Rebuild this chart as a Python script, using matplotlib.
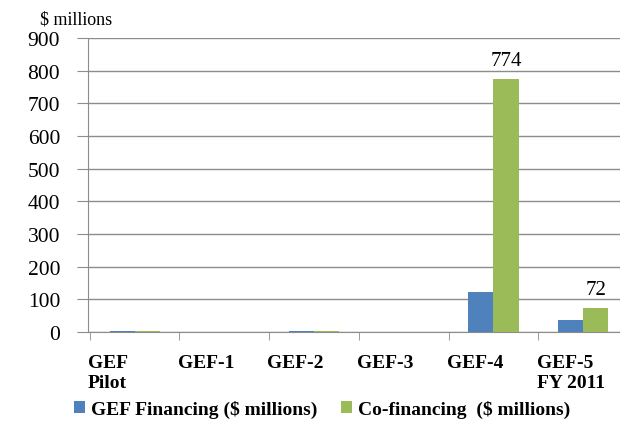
import numpy as np
import matplotlib.pyplot as plt

plt.rcParams['font.family'] = ['Liberation Serif', 'DejaVu Serif']

categories = ["GEF\nPilot", "GEF-1", "GEF-2", "GEF-3", "GEF-4", "GEF-5\nFY 2011"]
gef_financing = [4, 0, 4, 0, 122, 38]
co_financing = [4, 0, 4, 0, 774, 72]
labels_shown = {4: "774", 5: "72"}

blue = "#4f81bd"
green = "#9bbb59"
grey = "#8c8c8c"

fig = plt.figure(figsize=(6.2, 4.27), dpi=100)
ax = fig.add_axes([88/620, 1 - 333/427, 540/620, 294/427])

x = np.arange(len(categories))
w = 0.28
ax.bar(x - w/2, gef_financing, w, color=blue, label="GEF Financing ($ millions)", zorder=3)
ax.bar(x + w/2, co_financing, w, color=green, label="Co-financing  ($ millions)", zorder=3)

for i, txt in labels_shown.items():
    ax.text(x[i] + w/2, co_financing[i] + 28, txt, ha='center', va='bottom', fontsize=15)

ax.set_xlim(-0.5, len(categories) - 0.5)
ax.set_ylim(0, 900)
ax.set_yticks(range(0, 901, 100))
ax.yaxis.grid(True, color=grey, linewidth=1, zorder=0)
ax.set_xticks(np.arange(-0.5, len(categories), 1), minor=True)
ax.set_xticks(x - 0.52)
ax.set_xticklabels(categories, fontsize=14, fontweight='bold', ha='left')
ax.tick_params(axis='x', which='major', length=0, pad=16)
ax.tick_params(axis='x', which='minor', length=6, color=grey)
ax.tick_params(axis='y', length=8, color=grey, labelsize=15.5, pad=12)
for s in ['top', 'right']:
    ax.spines[s].set_visible(False)
for s in ['left', 'bottom']:
    ax.spines[s].set_color(grey)

fig.text(40/620, 1 - 20/427, "$ millions", fontsize=13, va='center')

fig.legend(loc='center left', bbox_to_anchor=(56/620, 1 - 410/427), ncol=2, frameon=False,
           handlelength=0.6, handleheight=0.6, handletextpad=0.3,
           columnspacing=1.2, prop={'weight': 'bold', 'size': 14})

fig.savefig("out.png", dpi=100)
